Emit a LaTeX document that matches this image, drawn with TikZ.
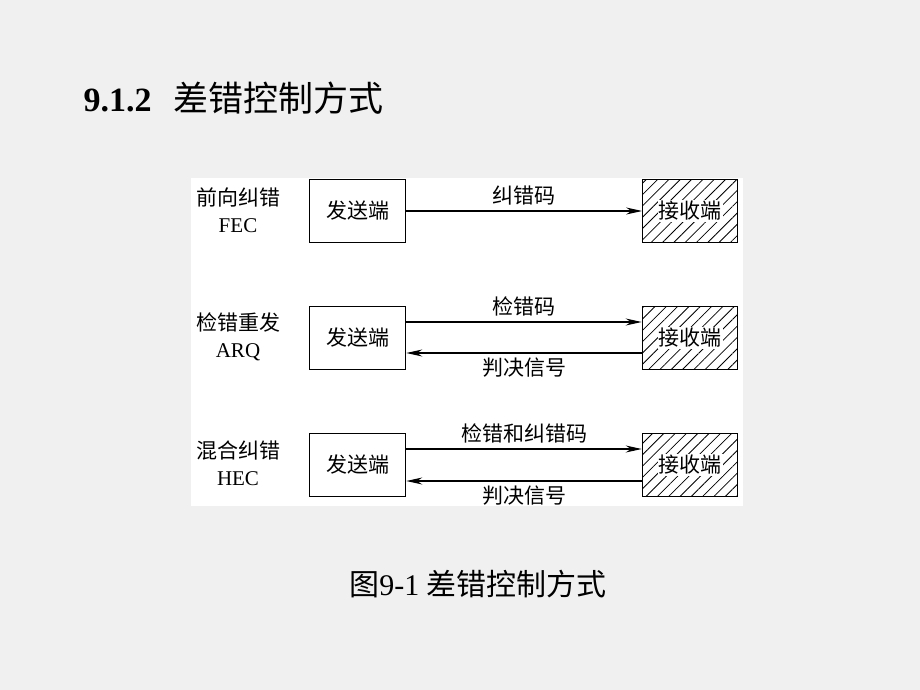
\documentclass[tikz,border=0pt]{standalone}
\usepackage{fontspec}
\setmainfont{Liberation Serif}
\newfontfamily\cjk{Noto Sans CJK SC}
\usetikzlibrary{arrows.meta,patterns.meta}
\tikzset{
  sender/.style={draw,line width=1.6pt,fill=white,minimum width=96pt,minimum height=63pt,font=\cjk\fontsize{21}{24}\selectfont},
  receiver/.style={draw,line width=1.6pt,minimum width=95pt,minimum height=63pt,
    pattern={Lines[angle=45,distance=8pt,line width=0.8pt]}},
  rlabel/.style={fill=white,inner sep=1pt,font=\cjk\fontsize{21}{24}\selectfont},
  kind/.style={align=center,font=\fontsize{21}{27}\selectfont},
  link/.style={line width=1.1pt,-{Stealth[length=16pt,width=7pt]}},
  lab/.style={font=\cjk\fontsize{21}{24}\selectfont}
}
\begin{document}
\begin{tikzpicture}[x=1pt,y=-1pt]
      \fill[black!6] (0,0) rectangle (920,690);
      \useasboundingbox (0,0) rectangle (920,690);
      \fill[white] (191,178) rectangle (743,506);
      % title and caption
      \node[anchor=west] (title) at (80,98)
        {\fontsize{34}{38}\selectfont\textbf{9.1.2}\hspace{22pt}\cjk\fontsize{35}{38}\selectfont 差错控制方式};
      \node (caption) at (478,584)
        {\fontsize{30}{33}\selectfont{\cjk 图}9-1 {\cjk 差错控制方式}};
      % the three schemes
      \draw
        (238,210) node[kind] (k1){{\cjk 前向纠错}\\FEC}
        (238,337) node[kind] (k2){{\cjk 检错重发}\\ARQ}
        (238,463) node[kind] (k3){{\cjk 混合纠错}\\HEC}
        (357.5,211) node[sender] (s1){发送端}
        (357.5,338) node[sender] (s2){发送端}
        (357.5,465) node[sender] (s3){发送端}
        (690,211) node[receiver] (r1){}
        (690,338) node[receiver] (r2){}
        (690,465) node[receiver] (r3){};
      \node[rlabel] at (r1) {接收端};
      \node[rlabel] at (r2) {接收端};
      \node[rlabel] at (r3) {接收端};
      \begin{scope}[link]
        \draw (s1.east) to node[lab,above=2pt]{纠错码} (r1.west);
        \draw ([yshift=16pt]s2.east) to node[lab,above=2pt]{检错码} ([yshift=16pt]r2.west);
        \draw ([yshift=-15pt]r2.west) to node[lab,below=1pt]{判决信号} ([yshift=-15pt]s2.east);
        \draw ([yshift=16pt]s3.east) to node[lab,above=2pt]{检错和纠错码} ([yshift=16pt]r3.west);
        \draw ([yshift=-16pt]r3.west) to node[lab,below=1pt]{判决信号} ([yshift=-16pt]s3.east);
      \end{scope}
    \end{tikzpicture}
\end{document}
